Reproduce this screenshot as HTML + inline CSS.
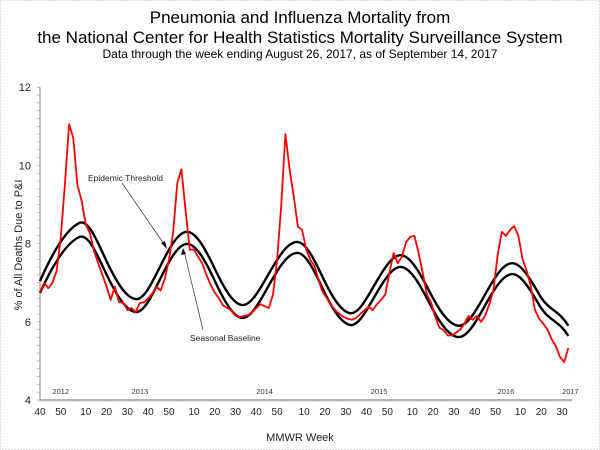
<!DOCTYPE html>
<html><head><meta charset="utf-8"><style>
body{margin:0;background:#fff}
svg{display:block;font-family:"Liberation Sans",Arial,sans-serif}
</style></head><body>
<svg id="chart" width="600" height="450" viewBox="0 0 600 450">
<rect x="0.5" y="0.5" width="599" height="449" fill="#fff" stroke="#bbb" stroke-dasharray="1,2"/>
<text x="300" y="23" text-anchor="middle" font-size="17">Pneumonia and Influenza Mortality from</text>
<text x="300" y="43" text-anchor="middle" font-size="17">the National Center for Health Statistics Mortality Surveillance System</text>
<text x="300" y="58" text-anchor="middle" font-size="12">Data through the week ending August 26, 2017, as of September 14, 2017</text>
<text transform="translate(22,245) rotate(-90)" text-anchor="middle" font-size="11" fill="#222">% of All Deaths Due to P&amp;I</text>
<text x="300" y="441" text-anchor="middle" font-size="11" fill="#222">MMWR Week</text>
<g id="axes"></g>
<g id="series"></g>
<g id="notes">
<text x="88" y="181" font-size="8.5" fill="#222">Epidemic Threshold</text>
<line x1="122" y1="183" x2="166" y2="247" stroke="#444" stroke-width="0.8"/>
<polygon points="167,249 161,243 165,241" fill="#111"/>
<text x="190" y="341" font-size="8.5" fill="#222">Seasonal Baseline</text>
<line x1="203" y1="330" x2="184" y2="251" stroke="#444" stroke-width="0.8"/>
<polygon points="183,248 181,255 186,254" fill="#111"/>
</g>
</svg>
<script>
const yTicks = [4, 6, 8, 10, 12];
const weekTickIdx = [0,10,22,32,42,52,62,74,84,94,104,114,127,137,147,157,167,179,189,199,209,219,231,241,251];
const weekTickLabels = ["40","50","10","20","30","40","50","10","20","30","40","50","10","20","30","40","50","10","20","30","40","50","10","20","30"];
const yearLabels = ["2012","2013","2014","2015","2016","2017"];
const yearLabelIdx = [10,48,108,163,224,255];
const piValues = [6.76,7.0,6.86,7.0,7.3,8.17,9.55,11.05,10.7,9.5,9.1,8.48,8.27,7.8,7.5,7.2,6.9,6.56,6.9,6.5,6.5,6.3,6.35,6.25,6.48,6.5,6.6,6.72,6.9,6.8,7.1,7.6,8.27,9.55,9.9,8.85,7.84,7.85,7.66,7.5,7.2,6.95,6.75,6.6,6.42,6.35,6.3,6.15,6.12,6.15,6.17,6.25,6.35,6.45,6.4,6.35,6.7,7.58,9.0,10.8,9.9,9.2,8.43,8.35,7.85,7.58,7.42,7.05,6.75,6.6,6.42,6.3,6.2,6.12,6.08,6.05,6.1,6.2,6.3,6.38,6.3,6.45,6.56,6.7,7.25,7.76,7.5,7.66,8.04,8.17,8.2,7.76,7.25,6.7,6.5,6.13,5.85,5.79,5.65,5.65,5.72,5.8,5.95,6.15,6.05,6.15,6.0,6.15,6.45,6.8,7.7,8.3,8.2,8.35,8.45,8.2,7.6,7.3,6.9,6.3,6.08,5.95,5.8,5.55,5.38,5.1,4.97,5.33];
const piWeekStep = 2;
const curveIdx = [0,19,32,46,58,71,84,97,110,124,136,149,161,174,187,201,214,227,240,254];
const baselineValues = [6.74,8.17,7.21,6.25,7.12,7.99,7.05,6.1,6.93,7.76,6.84,5.92,6.66,7.4,6.5,5.61,6.42,7.22,6.43,5.64];
const thresholdValues = [7.04,8.53,7.55,6.58,7.44,8.3,7.36,6.43,7.23,8.04,7.13,6.22,6.96,7.7,6.8,5.9,6.7,7.5,6.7,5.9];

const X0 = 40, PXW = 2.08;
function xScale(i){ return X0 + i * PXW; }
function yScale(v){ return 400 - (v - 4) * 39.1; }
const NS = "http://www.w3.org/2000/svg";
function mk(tag, attrs, parent){ const e = document.createElementNS(NS, tag); for (const k in attrs) e.setAttribute(k, attrs[k]); parent.appendChild(e); return e; }
const axes = document.getElementById('axes'), series = document.getElementById('series');

let el = mk('line', {x1:40, y1:yScale(12), x2:40, y2:400, stroke:'#888', 'stroke-width':1}, axes);


el = mk('line', {x1:40, y1:400, x2:572, y2:400, stroke:'#888', 'stroke-width':1.2}, axes);


for (let v = 4; v <= 12.001; v += 0.2) {
  el = mk('line', {x1:37, y1:yScale(v), x2:40, y2:yScale(v), stroke:'#999', 'stroke-width':0.6}, axes);
  
  
}
yTicks.forEach(v => {
  el = mk('text', {x:31, y:yScale(v)+4, 'text-anchor':'end', 'font-size':11, fill:'#222'}, axes);
  el.textContent = v;
  
  
});
for (let i = 0; i <= 255; i++) {
  el = mk('line', {x1:xScale(i), y1:400, x2:xScale(i), y2:402, stroke:'#aaa', 'stroke-width':0.5}, axes);
  
  
}
weekTickIdx.forEach((i, k) => {
  el = mk('text', {x:xScale(i), y:415, 'text-anchor':'middle', 'font-size':10, fill:'#222'}, axes);
  el.textContent = weekTickLabels[k];
  
  
});
yearLabelIdx.forEach((i, k) => {
  el = mk('text', {x:xScale(i), y:394, 'text-anchor':'middle', 'font-size':7.5, fill:'#333'}, axes);
  el.textContent = yearLabels[k];
  
  
});

function smoothPath(xs, ys){
  const n = xs.length, m = [];
  for (let i = 0; i < n; i++) {
    const a = Math.max(i-1,0), b = Math.min(i+1,n-1);
    m.push(1.55 * (ys[b]-ys[a]) / (xs[b]-xs[a]));
  }
  let d = `M${xs[0]},${ys[0]}`;
  for (let i = 0; i < n - 1; i++) {
    const h = xs[i+1]-xs[i];
    d += ` C${xs[i]+h/3},${ys[i]+m[i]*h/3} ${xs[i+1]-h/3},${ys[i+1]-m[i+1]*h/3} ${xs[i+1]},${ys[i+1]}`;
  }
  return d;
}
const cx = curveIdx.map(xScale);
el = mk('path', {d:smoothPath(cx, thresholdValues.map(yScale)), fill:'none', stroke:'#000', 'stroke-width':2.4}, series);


el = mk('path', {d:smoothPath(cx, baselineValues.map(yScale)), fill:'none', stroke:'#000', 'stroke-width':2.4}, series);


const pts = piValues.map((v, j) => `${xScale(j*piWeekStep).toFixed(1)},${yScale(v).toFixed(1)}`).join(' ');
el = mk('polyline', {points:pts, fill:'none', stroke:'#f00', 'stroke-width':1.8, 'stroke-linejoin':'round'}, series);


</script>
</body></html>
